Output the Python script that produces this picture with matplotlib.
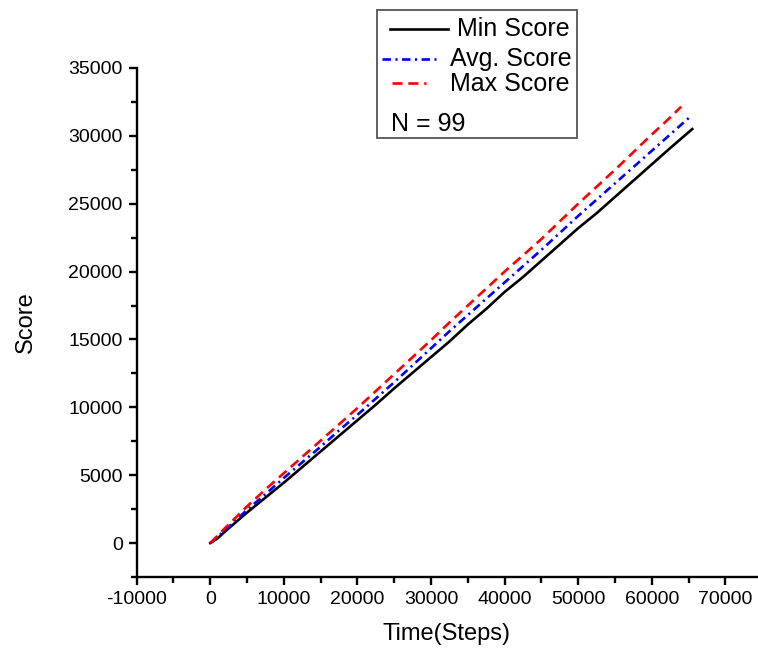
import matplotlib
matplotlib.use('Agg')
import matplotlib.pyplot as plt
from matplotlib.lines import Line2D
from matplotlib.patches import Rectangle
from matplotlib.ticker import MultipleLocator

plt.rcParams['font.family'] = ['Liberation Sans', 'DejaVu Sans']
plt.rcParams['axes.unicode_minus'] = False

# Score curves over time (steps)
min_steps = [0, 1000, 2000, 3500, 5000, 7500, 10000, 12500, 15000, 17500, 20000, 22500,
             25000, 27500, 30000, 32500, 35000, 37500, 40000, 42500, 45000, 47500,
             50000, 52500, 55000, 57500, 60000, 62500, 65500]
min_score = [0, 350, 850, 1550, 2250, 3350, 4450, 5600, 6750, 7900, 9050, 10200,
             11400, 12550, 13700, 14850, 16100, 17250, 18500, 19600, 20800, 22000,
             23200, 24300, 25500, 26700, 27900, 29100, 30500]

avg_steps = [0, 1000, 2000, 3500, 5000, 7500, 10000, 12500, 15000, 17500, 20000, 22500,
             25000, 27500, 30000, 32500, 35000, 37500, 40000, 42500, 45000, 47500,
             50000, 52500, 55000, 57500, 60000, 62500, 65400]
avg_score = [0, 450, 950, 1700, 2450, 3600, 4800, 5950, 7100, 8300, 9450, 10650,
             11850, 13100, 14350, 15600, 16800, 18000, 19200, 20400, 21600, 22850,
             24100, 25300, 26500, 27700, 28900, 30100, 31500]

max_steps = [0, 1000, 2000, 3500, 5000, 7500, 10000, 12500, 15000, 17500, 20000, 22500,
             25000, 27500, 30000, 32500, 35000, 37500, 40000, 42500, 45000, 47500,
             50000, 52500, 55000, 57500, 60000, 62000, 64000]
max_score = [0, 550, 1100, 1900, 2700, 3950, 5150, 6350, 7550, 8750, 9950, 11200,
             12450, 13700, 14950, 16250, 17500, 18750, 20000, 21200, 22400, 23700,
             25000, 26250, 27500, 28800, 30100, 31100, 32150]

LW = 1.9
AVG_STYLE = (0, (3.2, 1.7, 0.8, 1.7))
MAX_STYLE = (0, (3.8, 2.2))

W, H = 758, 658
fig = plt.figure(figsize=(W / 100, H / 100), dpi=100)
ax = fig.add_axes([136.7 / W, 81 / H, (757 - 136.7) / W, (577 - 68) / H])

ax.plot(min_steps, min_score, color='black', lw=LW, solid_joinstyle='round')
ax.plot(avg_steps, avg_score, color='#0000ff', lw=LW, linestyle=AVG_STYLE)
ax.plot(max_steps, max_score, color='#ff0000', lw=LW, linestyle=MAX_STYLE)

ax.set_xlim(-10000, 74300)
ax.set_ylim(-2500, 35000)
ax.xaxis.set_major_locator(MultipleLocator(10000))
ax.xaxis.set_minor_locator(MultipleLocator(5000))
ax.yaxis.set_minor_locator(MultipleLocator(2500))
ax.set_yticks(range(0, 35001, 5000))

for side in ['top', 'right']:
    ax.spines[side].set_visible(False)
for side in ['left', 'bottom']:
    ax.spines[side].set_linewidth(1.7)

ax.tick_params(which='major', direction='out', length=6, width=1.7, labelsize=14, pad=4)
ax.tick_params(which='minor', direction='out', length=4, width=1.7)

ax.set_xlabel('Time(Steps)', fontsize=17, labelpad=11)
ax.set_ylabel('Score', fontsize=17, labelpad=23)


def fx(px):
    return px / W


def fy(py):
    return 1 - py / H


# legend box drawn in figure coordinates
fig.patches.append(Rectangle((fx(377), fy(138)), fx(577) - fx(377), fy(10) - fy(138),
                             transform=fig.transFigure, fill=False,
                             edgecolor='#555555', lw=1.3))
fig.add_artist(Line2D([fx(390), fx(448)], [fy(29), fy(29)], color='black', lw=LW,
                      transform=fig.transFigure))
fig.add_artist(Line2D([fx(382), fx(436)], [fy(59), fy(59)], color='#0000ff', lw=LW,
                      linestyle=AVG_STYLE, transform=fig.transFigure))
fig.add_artist(Line2D([fx(392), fx(426)], [fy(83), fy(83)], color='#ff0000', lw=LW,
                      linestyle=MAX_STYLE, transform=fig.transFigure))
fig.text(fx(570), fy(29), 'Min Score', ha='right', va='center', fontsize=18)
fig.text(fx(572), fy(59), 'Avg. Score', ha='right', va='center', fontsize=18)
fig.text(fx(570), fy(84), 'Max Score', ha='right', va='center', fontsize=18)
fig.text(fx(391), fy(124), 'N = 99', ha='left', va='center', fontsize=18)

fig.savefig('out.png', dpi=100)
